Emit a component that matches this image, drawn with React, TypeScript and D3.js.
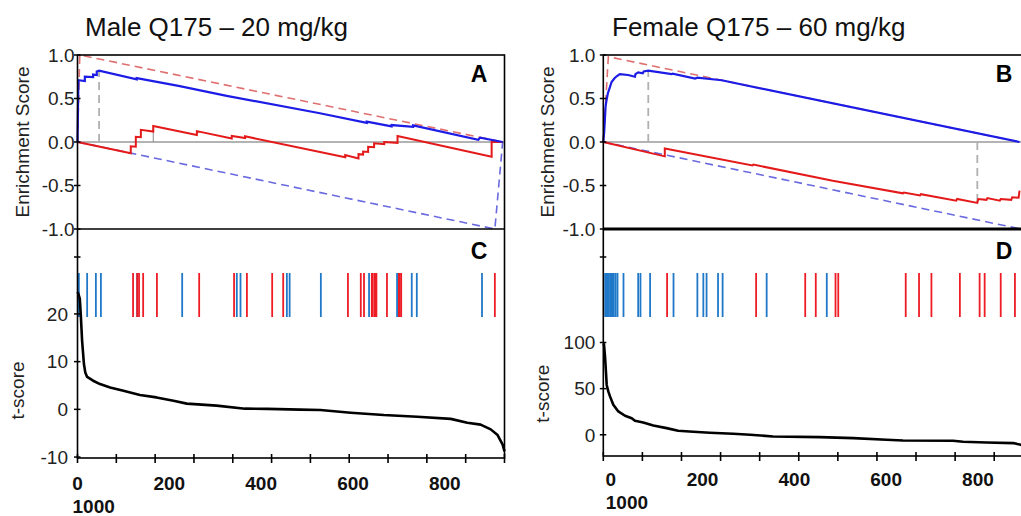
import * as d3 from 'd3'

// ---- data (rank in the ordered gene list, value) ----
const rankTicks = [0, 200, 400, 600, 800]
const maleTTicks = [-10, 0, 10, 20]
const femaleTTicks = [0, 50, 100]
const esTicks = [1.0, 0.5, 0.0, -0.5, -1.0]

const maleBlueES: [number, number][] = [
  [0, 0], [2, 0.71], [16, 0.70], [16, 0.75], [34, 0.745], [34, 0.775], [42, 0.77], [42, 0.81], [47, 0.82],
  [129, 0.72], [129, 0.735], [220, 0.645], [325, 0.53], [528, 0.33], [630, 0.22], [630, 0.235],
  [684, 0.18], [684, 0.195], [731, 0.175], [731, 0.19], [873, 0.025], [877, 0.05], [926, 0.0],
]
const maleRedES: [number, number][] = [
  [0, 0], [116, -0.13], [116, -0.05], [127, -0.055], [127, 0.06], [138, 0.055], [138, 0.14], [165, 0.12],
  [165, 0.185], [260, 0.08], [260, 0.125], [336, 0.04], [336, 0.07], [365, 0.045], [365, 0.065],
  [583, -0.175], [583, -0.15], [612, -0.19], [612, -0.14], [622, -0.145], [622, -0.11], [633, -0.115],
  [633, -0.055], [646, -0.06], [646, -0.015], [668, -0.025], [668, 0.0], [697, -0.01], [697, 0.07],
  [902, -0.17], [902, 0], [926, 0],
]
const maleUpperBound: [number, number][] = [[0, 0], [5, 1.0], [926, 0]]
const maleLowerBound: [number, number][] = [[0, 0], [909, -1.0], [926, 0]]
const maleLeading: [number, number][] = [[47, 0.82]]
const maleMarker: [number, number][] = [[165, 0.185]]
const maleTScore: [number, number][] = [
  [0, 24.6], [1.5, 24.3], [5, 23.2], [7, 20.1], [10, 14.4], [14, 9.5], [17, 7.7], [21, 6.8], [34, 6.0],
  [49, 5.3], [71, 4.6], [100, 3.9], [136, 3.0], [172, 2.5], [209, 1.8], [238, 1.2], [303, 0.77],
  [365, 0.14], [413, 0.1], [485, -0.05], [529, -0.14], [595, -0.7], [667, -1.2], [740, -1.55],
  [813, -2.0], [849, -2.8], [878, -3.2], [900, -4.2], [915, -5.4], [926, -7.4], [930, -8.8],
]
const maleBlueHits = [3, 21, 40, 51, 130, 228, 347, 355, 456, 462, 530, 635, 696, 728, 739, 881]
const maleRedHits = [
  121, 130, 134, 143, 173, 265, 341, 369, 424, 448, 589, 617, 624, 641, 643, 647, 649, 651, 674,
  700, 702, 705, 909,
]

const femaleBlueES: [number, number][] = [
  [0, 0], [2, 0.12], [5, 0.41], [7, 0.48], [10, 0.56], [15, 0.64], [18, 0.69], [24, 0.73], [29, 0.755],
  [36, 0.78], [54, 0.77], [69, 0.75], [70, 0.78], [76, 0.8], [86, 0.79], [88, 0.81], [98, 0.82],
  [149, 0.78], [151, 0.785], [200, 0.73], [205, 0.74], [258, 0.71], [907, 0],
]
const femaleRedES: [number, number][] = [
  [0, 0], [134, -0.165], [134, -0.075], [325, -0.27], [327, -0.26], [500, -0.445], [653, -0.59],
  [655, -0.58], [690, -0.615], [692, -0.6], [769, -0.675], [771, -0.655], [815, -0.7], [817, -0.655],
  [835, -0.665], [837, -0.645], [864, -0.675], [866, -0.655], [889, -0.665], [891, -0.635],
  [905, -0.64], [907, -0.56],
]
const femaleUpperBound: [number, number][] = [[0, 0], [11, 0.98], [907, 0]]
const femaleLowerBound: [number, number][] = [[0, 0], [910, -1.0]]
const femaleLeading: [number, number][] = [[98, 0.82], [815, -0.7]]
const femaleTScore: [number, number][] = [
  [0, 99], [1.5, 98], [3.7, 85], [5.9, 67], [7.4, 54], [10.9, 47], [14.6, 41.6], [21.8, 32.6],
  [32.7, 25.3], [47.3, 20.6], [61.9, 18], [69, 15.2], [87, 13.4], [109, 10.1], [138, 7.2], [163, 4.3],
  [196, 3.3], [232, 2.2], [283, 1.1], [320, 0], [370, -1.8], [472, -2.5], [545, -3.6], [617, -5.4],
  [653, -6.2], [762, -6.5], [784, -7.6], [835, -8.3], [893, -9], [910, -10.9], [925, -14],
]
const femaleBlueHits = [
  4, 6, 8, 10, 12, 15, 17, 20, 23, 27, 31, 44, 76, 81, 102, 153, 205, 218, 225, 250, 260, 356, 487,
]
const femaleRedHits = [139, 333, 440, 463, 506, 512, 659, 688, 715, 777, 820, 831, 866, 897]

const FONT = '"Liberation Sans", Arial, Helvetica, sans-serif'
const BLUE = '#1c1ce6'
const RED = '#e41a1a'
const HIT_BLUE = '#1f78c8'
const HIT_RED = '#ee1c25'

type PanelProps = {
  title: string
  titleX: number
  left: number
  right: number
  rankMax: number
  letterTop: string
  letterBottom: string
  letterX: number
  blueES: [number, number][]
  redES: [number, number][]
  upper: [number, number][]
  lower: [number, number][]
  leading: [number, number][]
  marker: [number, number][]
  tScore: [number, number][]
  tDomain: [number, number]
  tTicks: number[]
  tBottom: number
  blueHits: number[]
  redHits: number[]
  esLabelGap: number
  tLabelGap: number
  rankLabelShift: number
  rankLabelDy: number
  dividerWidth: number
}

function GseaPanel(p: PanelProps) {
  const esTop = 55
  const esBottom = 229
  const hitTop = 273
  const hitBottom = 317

  const x = d3.scaleLinear().domain([0, p.rankMax]).range([p.left, p.right])
  const tickPos = d3.scaleLinear().domain([0, 11]).range([p.left, p.right])
  const yES = d3.scaleLinear().domain([-1, 1]).range([esBottom, esTop])
  const yT = d3.scaleLinear().domain(p.tDomain).range([p.tBottom, esBottom])

  const esLine = d3.line<[number, number]>().x((d) => x(d[0])).y((d) => yES(d[1]))
  const tLine = d3.line<[number, number]>().x((d) => x(d[0])).y((d) => yT(d[1]))

  return (
    <g fontFamily={FONT}>
      <text x={p.titleX} y={36} fontSize={26} fill="#111">{p.title}</text>

      {/* zero line */}
      <line x1={p.left} x2={p.right} y1={yES(0)} y2={yES(0)} stroke="#9a9a9a" strokeWidth={1.6} />

      {/* bounds */}
      <path d={esLine(p.upper) || ''} fill="none" stroke="#e07070" strokeWidth={1.6} strokeDasharray="8,5" />
      <path d={esLine(p.lower) || ''} fill="none" stroke="#6a6ae0" strokeWidth={1.6} strokeDasharray="8,5" />

      {/* leading edge markers */}
      {p.leading.map((d, i) => (
        <line key={'l' + i} x1={x(d[0])} x2={x(d[0])} y1={yES(0)} y2={yES(d[1])} stroke="#b0b0b0" strokeWidth={1.8} strokeDasharray="8,5" />
      ))}
      {p.marker.map((d, i) => (
        <line key={'m' + i} x1={x(d[0])} x2={x(d[0])} y1={yES(0)} y2={yES(d[1])} stroke="#888" strokeWidth={1} />
      ))}

      <path d={esLine(p.redES) || ''} fill="none" stroke={RED} strokeWidth={2} />
      <path d={esLine(p.blueES) || ''} fill="none" stroke={BLUE} strokeWidth={2.2} />

      {/* hit bars */}
      {p.blueHits.map((r, i) => (
        <line key={'b' + i} x1={x(r)} x2={x(r)} y1={hitTop} y2={hitBottom} stroke={HIT_BLUE} strokeWidth={1.8} />
      ))}
      {p.redHits.map((r, i) => (
        <line key={'r' + i} x1={x(r)} x2={x(r)} y1={hitTop} y2={hitBottom} stroke={HIT_RED} strokeWidth={1.8} />
      ))}

      <path d={tLine(p.tScore) || ''} fill="none" stroke="#000" strokeWidth={2.6} strokeLinejoin="round" />

      {/* frames */}
      <rect x={p.left} y={esTop} width={p.right - p.left} height={p.tBottom - esTop} fill="none" stroke="#000" strokeWidth={1.6} />
      <line x1={p.left} x2={p.right} y1={esBottom} y2={esBottom} stroke="#000" strokeWidth={p.dividerWidth} />

      {/* ES axis */}
      {esTicks.map((v) => (
        <g key={'es' + v}>
          <line x1={p.left - 3.5} x2={p.left + 3} y1={yES(v)} y2={yES(v)} stroke="#000" strokeWidth={1.5} />
          <text x={p.left - p.esLabelGap} y={yES(v)} dy="0.36em" textAnchor="end" fontSize={19} fill="#222">
            {v.toFixed(1)}
          </text>
        </g>
      ))}
      <text transform={`translate(${p.left - 49},${yES(0)}) rotate(-90)`} textAnchor="middle" fontSize={19} fill="#222">
        Enrichment Score
      </text>

      {/* t-score axis */}
      <line x1={p.left - 3.5} x2={p.left + 3} y1={hitTop - 16} y2={hitTop - 16} stroke="#000" strokeWidth={1.5} />
      {p.tTicks.map((v) => (
        <g key={'t' + v}>
          <line x1={p.left - 3.5} x2={p.left + 3} y1={yT(v)} y2={yT(v)} stroke="#000" strokeWidth={1.5} />
          <text x={p.left - p.tLabelGap} y={yT(v)} dy="0.36em" textAnchor="end" fontSize={19} fill="#222">
            {v}
          </text>
        </g>
      ))}
      <text transform={`translate(${p.left - 54},${(yT(p.tTicks[0]) + yT(p.tTicks[p.tTicks.length - 1])) / 2 + 5}) rotate(-90)`} textAnchor="middle" fontSize={19} fill="#222">
        t-score
      </text>

      {/* rank axis */}
      {d3.range(12).map((i) => (
        <line key={'xt' + i} x1={tickPos(i)} x2={tickPos(i)} y1={p.tBottom - 4} y2={p.tBottom + 5} stroke="#000" strokeWidth={1.6} />
      ))}
      {rankTicks.map((v) => (
        <text key={'xl' + v} x={x(v) + p.rankLabelShift} y={p.tBottom + p.rankLabelDy} textAnchor="middle" fontSize={19} fontWeight="bold" fill="#111">
          {v}
        </text>
      ))}
      <text x={x(0) + p.rankLabelShift - 5} y={p.tBottom + p.rankLabelDy + 23} fontSize={19} fontWeight="bold" fill="#111">
        1000
      </text>

      <text x={p.letterX} y={82} textAnchor="middle" fontSize={23} fontWeight="bold" fill="#000">{p.letterTop}</text>
      <text x={p.letterX} y={259} textAnchor="middle" fontSize={23} fontWeight="bold" fill="#000">{p.letterBottom}</text>
    </g>
  )
}

export default function App() {
  return (
    <svg width={1021} height={516} style={{ position: 'absolute', left: 0, top: 0, background: '#fff' }}>
      <rect width={1021} height={516} fill="#fff" />
      <GseaPanel
        title="Male Q175 – 20 mg/kg"
        titleX={85}
        left={77.5}
        right={504.5}
        rankMax={930}
        letterTop="A"
        letterBottom="C"
        letterX={479}
        blueES={maleBlueES}
        redES={maleRedES}
        upper={maleUpperBound}
        lower={maleLowerBound}
        leading={maleLeading}
        marker={maleMarker}
        tScore={maleTScore}
        tDomain={[-10.2, 37.8]}
        tTicks={maleTTicks}
        tBottom={458}
        blueHits={maleBlueHits}
        redHits={maleRedHits}
        esLabelGap={3}
        tLabelGap={9.5}
        rankLabelShift={0}
        rankLabelDy={32}
        dividerWidth={1.6}
      />
      <GseaPanel
        title="Female Q175 – 60 mg/kg"
        titleX={612}
        left={603.3}
        right={1033.3}
        rankMax={937}
        letterTop="B"
        letterBottom="D"
        letterX={1004}
        blueES={femaleBlueES}
        redES={femaleRedES}
        upper={femaleUpperBound}
        lower={femaleLowerBound}
        leading={femaleLeading}
        marker={[]}
        tScore={femaleTScore}
        tDomain={[-23, 223]}
        tTicks={femaleTTicks}
        tBottom={456}
        blueHits={femaleBlueHits}
        redHits={femaleRedHits}
        esLabelGap={8}
        tLabelGap={8}
        rankLabelShift={7.5}
        rankLabelDy={30}
        dividerWidth={3}
      />
    </svg>
  )
}
